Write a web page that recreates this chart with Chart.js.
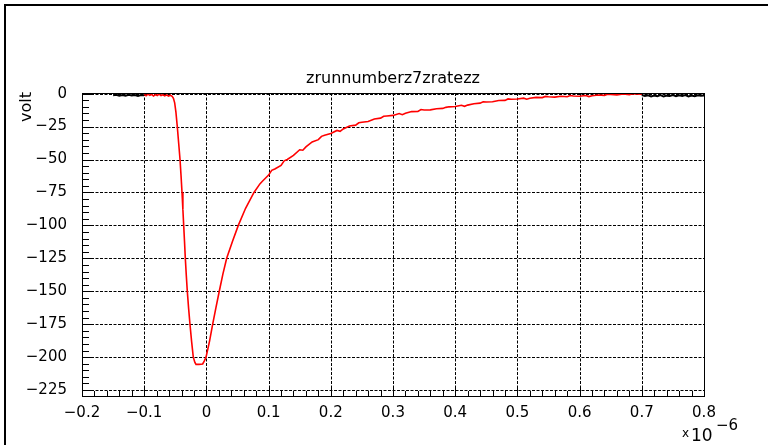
<!DOCTYPE html>
<html>
<head>
<meta charset="utf-8">
<script src="https://cdn.jsdelivr.net/npm/chart.js@4.4.1/dist/chart.umd.min.js"></script>
<style>
  html, body { margin: 0; padding: 0; background: #fff; }
  canvas { display: block; }
</style>
</head>
<body>
<canvas id="c" width="773" height="445"></canvas>
<script>
// ---- labels ----
const titleText = 'zrunnumberz7zratezz';
const yAxisTitle = 'volt';
const xExponentBase = '10';
const xExponentPower = '\u22126';

// ---- tick positions ----
const xTicks = [-0.2, -0.1, 0, 0.1, 0.2, 0.3, 0.4, 0.5, 0.6, 0.7, 0.8];
const yTicks = [0, -25, -50, -75, -100, -125, -150, -175, -200, -225];

// ---- pulse trace (time in microseconds, amplitude in volts) ----
const pulseTime = [
  -0.100, -0.097, -0.094, -0.091, -0.088, -0.085, -0.082, -0.079, -0.076, -0.073,
  -0.070, -0.067, -0.064, -0.061, -0.058, -0.055, -0.053, -0.051, -0.049, -0.0468,
  -0.0445, -0.0424, -0.0408, -0.0392, -0.0378, -0.0365, -0.0352, -0.0339, -0.0323, -0.0307,
  -0.0286, -0.0264, -0.0238, -0.0211, -0.0185, -0.0167, -0.012, -0.006, -0.0035, -0.0006,
  0.005, 0.0101, 0.0155, 0.0207, 0.0265, 0.0326, 0.042, 0.0513, 0.063, 0.0765,
  0.086, 0.09, 0.10, 0.105, 0.11, 0.12, 0.125, 0.13, 0.14, 0.15, 0.155, 0.16, 0.17,
  0.18, 0.185, 0.19, 0.20, 0.21, 0.215, 0.22, 0.23, 0.24, 0.245, 0.25, 0.26, 0.27,
  0.28, 0.285, 0.29, 0.30, 0.31, 0.315, 0.32, 0.33, 0.34, 0.345, 0.35, 0.36, 0.37,
  0.38, 0.385, 0.39, 0.40, 0.41, 0.415, 0.42, 0.43, 0.44, 0.445, 0.45, 0.46, 0.47,
  0.48, 0.485, 0.49, 0.50, 0.51, 0.515, 0.52, 0.53, 0.54, 0.545, 0.55, 0.56, 0.57,
  0.58, 0.585, 0.59, 0.60, 0.61, 0.615, 0.62, 0.63, 0.64, 0.645, 0.65, 0.66, 0.67,
  0.68, 0.685, 0.69, 0.70
];
const pulseVolt = [
  -0.6, -1.6, -0.4, -1.3, -0.5, -1.8, -0.7, -1.4, -0.3, -1.5,
  -0.8, -1.7, -0.9, -1.9, -1.2, -2.0, -3.5, -7, -14, -25,
  -38, -50, -62, -75, -88, -100, -112, -125, -138, -150,
  -163, -175, -188, -200, -204, -205.5, -205.5, -205.2, -203, -200,
  -188, -175, -162, -150, -137, -125, -112, -100, -87, -75,
  -68.5, -66.5, -61.8, -58.2, -57.2, -54.5, -51.0, -50.0, -46.9, -42.6, -42.9, -40.4, -36.6,
  -34.9, -32.4, -31.6, -30.3, -27.9, -28.6, -26.8, -24.6, -23.9, -22.1, -21.7, -21.1, -19.2,
  -18.6, -17.2, -16.9, -16.5, -15.1, -16.0, -14.9, -13.6, -13.5, -12.0, -12.4, -12.3, -11.4,
  -11.2, -10.4, -10.0, -9.8, -8.8, -9.6, -8.7, -7.6, -7.2, -6.1, -6.3, -6.2, -5.2,
  -5.1, -4.0, -4.2, -4.1, -3.4, -4.2, -3.5, -2.8, -3.0, -2.1, -2.4, -2.6, -2.0,
  -2.3, -1.4, -1.8, -2.0, -1.4, -2.2, -1.6, -1.0, -1.3, -0.4, -0.6, -0.9, -0.3,
  -0.7, -0.1, -0.2, -0.5
];

// ---- baseline samples outside the pulse window ----
const baselineTime = [
  -0.150, -0.145, -0.140, -0.135, -0.130, -0.125, -0.120, -0.115, -0.110, -0.105, -0.100,
  null,
  0.700, 0.705, 0.710, 0.715, 0.720, 0.725, 0.730, 0.735, 0.740, 0.745, 0.750,
  0.755, 0.760, 0.765, 0.770, 0.775, 0.780, 0.785, 0.790, 0.795, 0.800
];
const baselineVolt = [
  -1.2, -0.8, -1.5, -1.0, -1.6, -0.9, -1.4, -1.1, -1.7, -1.0, -1.3,
  null,
  -1.0, -1.8, -1.2, -2.1, -1.4, -1.9, -1.1, -2.2, -1.5, -1.7, -1.0,
  -2.0, -1.3, -1.8, -1.1, -2.1, -1.4, -1.9, -1.2, -1.6, -1.3
];

const toPoints = (xs, ys) => xs.map((x, i) => (x === null ? { x: NaN, y: null } : { x: x, y: ys[i] }));

const FONT = "'DejaVu Sans', 'Liberation Sans', sans-serif";
const minus = v => (v < 0 ? '\u2212' : '');

// ROOT-style frame: dotted grid, inward ticks, frame box, titles
const rootFrame = {
  id: 'rootFrame',
  beforeDatasetsDraw(chart) {
    const { ctx, chartArea: a, scales: { x, y } } = chart;
    ctx.save();
    ctx.strokeStyle = '#000';
    ctx.lineWidth = 1;
    ctx.setLineDash([3, 1.5]);
    ctx.beginPath();
    xTicks.forEach(v => {
      const px = Math.round(x.getPixelForValue(v)) + 0.5;
      ctx.moveTo(px, a.top); ctx.lineTo(px, a.bottom);
    });
    yTicks.forEach(v => {
      const py = Math.round(y.getPixelForValue(v)) + 0.5;
      ctx.moveTo(a.left, py); ctx.lineTo(a.right, py);
    });
    ctx.stroke();
    ctx.setLineDash([]);

    // inward tick marks on the bottom and left axes
    ctx.beginPath();
    for (let i = 0; i <= 50; i++) {
      const v = -0.2 + i * 0.02;
      const px = Math.round(x.getPixelForValue(v)) + 0.5;
      const len = (i % 5 === 0) ? 9 : 5;
      ctx.moveTo(px, a.bottom); ctx.lineTo(px, a.bottom - len);
    }
    for (let v = 0; v >= -225; v -= 5) {
      const py = Math.round(y.getPixelForValue(v)) + 0.5;
      const len = (v % 25 === 0) ? 10 : 7;
      ctx.moveTo(a.left, py); ctx.lineTo(a.left + len, py);
    }
    ctx.stroke();
    ctx.restore();
  },
  afterDatasetsDraw(chart) {
    const { ctx, chartArea: a } = chart;
    ctx.save();
    ctx.strokeStyle = '#000';
    ctx.lineWidth = 1;
    ctx.strokeRect(Math.round(a.left) + 0.5, Math.round(a.top) + 0.5,
                   Math.round(a.right - a.left), Math.round(a.bottom - a.top));

    // outer canvas edge
    ctx.lineWidth = 2;
    ctx.beginPath();
    ctx.moveTo(5, 445); ctx.lineTo(5, 5); ctx.lineTo(768, 5);
    ctx.stroke();

    ctx.fillStyle = '#000';
    // title
    ctx.font = '16px ' + FONT;
    ctx.textAlign = 'center';
    ctx.textBaseline = 'alphabetic';
    ctx.fillText(titleText, 393, 83);

    // y axis title, reading upward, ending at the top of the axis
    ctx.save();
    ctx.translate(27, 92);
    ctx.rotate(-Math.PI / 2);
    ctx.font = '16px ' + FONT;
    ctx.textAlign = 'right';
    ctx.textBaseline = 'middle';
    ctx.fillText(yAxisTitle, 0, 0);
    ctx.restore();

    // x axis exponent
    ctx.textAlign = 'left';
    ctx.textBaseline = 'alphabetic';
    ctx.font = '12px ' + FONT;
    ctx.fillText('x', 682, 437);
    ctx.font = '17px ' + FONT;
    ctx.fillText(xExponentBase, 691, 441);
    ctx.font = '15px ' + FONT;
    ctx.fillText(xExponentPower, 716, 430);
    ctx.restore();
  }
};

new Chart(document.getElementById('c'), {
  type: 'line',
  data: {
    datasets: [
      {
        data: toPoints(pulseTime, pulseVolt),
        borderColor: '#ff0000',
        borderWidth: 1.6,
        pointRadius: 0,
        tension: 0,
        fill: false
      },
      {
        data: toPoints(baselineTime, baselineVolt),
        borderColor: '#000000',
        borderWidth: 2,
        pointRadius: 0,
        tension: 0,
        fill: false,
        spanGaps: false
      }
    ]
  },
  options: {
    responsive: false,
    animation: false,
    events: [],
    layout: { padding: { left: 0, right: 69, top: 93, bottom: 0 } },
    plugins: { legend: { display: false }, tooltip: { enabled: false }, title: { display: false } },
    scales: {
      x: {
        type: 'linear',
        min: -0.2,
        max: 0.8,
        grid: { display: false, drawTicks: false },
        border: { display: false },
        afterBuildTicks: s => { s.ticks = xTicks.map(v => ({ value: v })); },
        afterFit: s => { s.height = 49; },
        ticks: {
          color: '#000',
          padding: 8,
          maxRotation: 0,
          autoSkip: false,
          font: { family: FONT, size: 15 },
          callback: v => (v === 0 ? '0' : minus(v) + Math.abs(v).toFixed(1))
        }
      },
      y: {
        type: 'linear',
        min: -229.5,
        max: 0.5,
        grid: { display: false, drawTicks: false },
        border: { display: false },
        afterBuildTicks: s => { s.ticks = yTicks.map(v => ({ value: v })); },
        afterFit: s => { s.width = 82; },
        ticks: {
          color: '#000',
          padding: 15,
          autoSkip: false,
          font: { family: FONT, size: 15 },
          callback: v => minus(v) + Math.abs(v)
        }
      }
    }
  },
  plugins: [rootFrame]
});
</script>
</body>
</html>
